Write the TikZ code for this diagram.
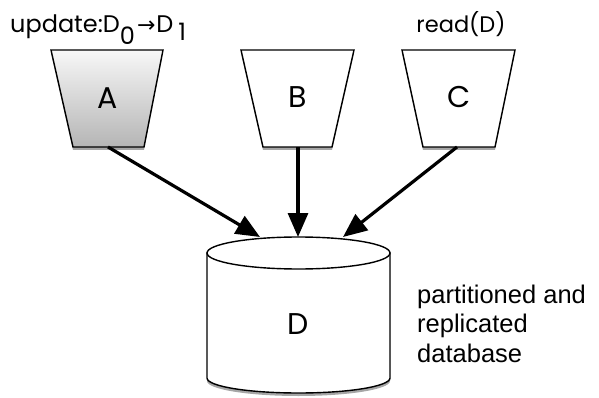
\documentclass[tikz,border=0pt]{standalone}
\usepackage{fontspec}
\setmainfont{Liberation Sans}
\newfontfamily\geo{Poppins}
\newfontfamily\dejavu{DejaVu Sans}
\usetikzlibrary{arrows.meta,shadows}
\begin{document}
\begin{tikzpicture}[x=1pt,y=-1pt,
  box/.style={draw=black,line width=1.4pt,line join=miter,fill=white,
    drop shadow={shadow xshift=0pt,shadow yshift=-3pt,opacity=0.35,fill=black}},
  big/.style={font=\geo\fontsize{30}{34}\selectfont,inner sep=0pt},
  lbl/.style={font=\geo\fontsize{22.5}{26}\selectfont,inner sep=0pt},
  conn/.style={line width=3.2pt,-{Triangle[length=24pt,width=20pt]}}]
\useasboundingbox (0,0) rectangle (599,398);
% trapezoids
\path[box,top color=gray!6,bottom color=gray!58]
  (51,50)--(163,50)--(144,147)--(73,147)--cycle;
\path[box] (241,50)--(354,50)--(332,147)--(263,147)--cycle;
\path[box] (402,50)--(515,50)--(495,147)--(423,147)--cycle;
\node[big] (A) at (108,98) {A};
\node[big] (B) at (298,97) {B};
\node[big] (C) at (459,97) {C};
\coordinate (Ab) at (108,147);
\coordinate (Bb) at (298,147);
\coordinate (Cb) at (457,147);
% cylinder
\path[box] (207,253) -- (207,378) arc[start angle=180,end angle=0,x radius=91.5,y radius=15] -- (390,253) -- cycle;
\draw[line width=1.4pt,fill=white] (298.5,253) ellipse [x radius=91.5,y radius=16];
\node[big] (D) at (298.5,324) {D};
\coordinate (DL) at (260,237);
\coordinate (DM) at (298,237);
\coordinate (DR) at (343,237);
% connectors
\draw[conn] (Ab) -- (DL);
\draw[conn] (Bb) -- (DM);
\draw[conn] (Cb) -- (DR);
% labels
\node[lbl,anchor=base west,font=\geo\fontsize{24}{28}\selectfont] (upd) at (10,33)
  {update:D\raisebox{-12pt}{0}\hspace{2pt}{\dejavu\fontsize{22}{24}\selectfont →}\hspace{1pt}D\hspace{5pt}\raisebox{-8pt}{1}};
\node[lbl,anchor=base] (rd) at (461,33) {read(D)};
\node[font=\fontsize{25.5}{29.5}\selectfont,align=left,anchor=base west,inner sep=0pt] (note) at (417,362)
  {partitioned and\\replicated\\database};
\end{tikzpicture}
\end{document}
